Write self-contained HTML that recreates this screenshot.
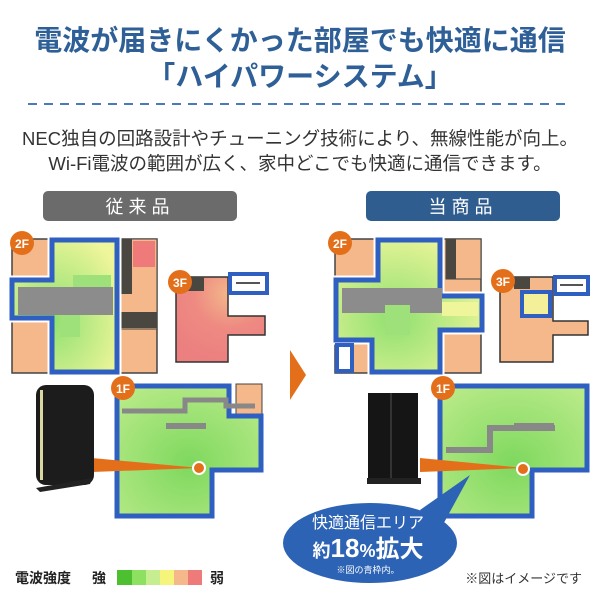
<!DOCTYPE html>
<html><head><meta charset="utf-8"><style>
body{margin:0;background:#fff;}
svg{display:block;font-family:"Liberation Sans","Noto Sans CJK JP",sans-serif;}
</style></head><body>
<svg width="600" height="600" viewBox="0 0 600 600" xmlns="http://www.w3.org/2000/svg">
<defs>
<radialGradient id="g1" cx="0.4" cy="0.6" r="0.7"><stop offset="0" stop-color="#8fe070"/><stop offset="1" stop-color="#eef59a"/></radialGradient>
<radialGradient id="g2" cx="0.5" cy="0.6" r="0.7"><stop offset="0" stop-color="#7ed85e"/><stop offset="1" stop-color="#b8ea88"/></radialGradient>
<radialGradient id="g3" cx="0.6" cy="0.2" r="0.8"><stop offset="0" stop-color="#f4b88a"/><stop offset="0.5" stop-color="#ee8a82"/><stop offset="1" stop-color="#ec8080"/></radialGradient>
</defs>
<text x="300" y="50" text-anchor="middle" font-size="28" font-weight="bold" fill="#2e5f96">電波が届きにくかった部屋でも快適に通信</text>
<text x="300" y="86" text-anchor="middle" font-size="28" font-weight="bold" fill="#2e5f96">「ハイパワーシステム」</text>
<line x1="28" y1="104" x2="572" y2="104" stroke="#4a7ab8" stroke-width="2" stroke-dasharray="9,7"/>
<text x="300" y="145" text-anchor="middle" font-size="18.5" fill="#333">NEC独自の回路設計やチューニング技術により、無線性能が向上。</text>
<text x="300" y="170" text-anchor="middle" font-size="18.5" fill="#333">Wi-Fi電波の範囲が広く、家中どこでも快適に通信できます。</text>

<rect x="43" y="191" width="194" height="30" rx="5" fill="#6b6b6b"/>
<text x="140" y="213" text-anchor="middle" font-size="18" fill="#fff" letter-spacing="5">従来品</text>
<rect x="366" y="191" width="194" height="30" rx="5" fill="#2f5d8f"/>
<text x="463" y="213" text-anchor="middle" font-size="18" fill="#fff" letter-spacing="5">当商品</text>

<!-- LEFT 2F -->
<g>
<rect x="12" y="239" width="145" height="134" fill="#f4b88a" stroke="#444" stroke-width="1.5"/>
<rect x="120" y="239" width="37" height="90" fill="#f4b88a" stroke="#444"/>
<rect x="120" y="239" width="12" height="55" fill="#4a4740"/>
<rect x="133" y="241" width="22" height="26" fill="#ee7a7a"/>
<rect x="120" y="312" width="37" height="16" fill="#4a4740"/>
<path d="M52 240 H117 V372 H52 V318 H12 V280 H52Z" fill="url(#g1)" stroke="#fff" stroke-width="9"/>
<path d="M52 240 H117 V372 H52 V318 H12 V280 H52Z" fill="url(#g1)" stroke="#2f5fc0" stroke-width="5"/>
<rect x="18" y="287" width="95" height="28" fill="#8c8c8c"/>
<rect x="73" y="275" width="38" height="12" fill="#9ee07a"/>
<rect x="60" y="315" width="20" height="22" fill="#9ee07a"/>
<circle cx="22" cy="243" r="12" fill="#e46f1a"/>
<text x="22" y="248" text-anchor="middle" font-size="12" font-weight="bold" fill="#fff">2F</text>
</g>
<!-- LEFT 3F -->
<g>
<path d="M176 277 H228 V316 H265 V335 H228 V362 H176Z" fill="url(#g3)" stroke="#333" stroke-width="1.5"/>
<rect x="186" y="277" width="18" height="14" fill="#4a4740"/>
<rect x="230" y="274" width="37" height="19" fill="#fff" stroke="#2f5fc0" stroke-width="4"/>
<line x1="236" y1="283" x2="260" y2="283" stroke="#555" stroke-width="2"/>
<circle cx="180" cy="282" r="12" fill="#e46f1a"/>
<text x="180" y="287" text-anchor="middle" font-size="12" font-weight="bold" fill="#fff">3F</text>
</g>
<!-- LEFT 1F -->
<g>
<rect x="236" y="384" width="26" height="30" fill="#f4b88a" stroke="#444"/>
<path d="M117 386 H229 V416 H261 V470 H212 V516 H117Z" fill="url(#g2)" stroke="#2f5fc0" stroke-width="5"/>
<path d="M122 411 H185 V400 H226 V406 H255" fill="none" stroke="#888" stroke-width="5"/>
<rect x="166" y="423" width="40" height="6" fill="#888"/>
<circle cx="123" cy="388" r="12" fill="#e46f1a"/>
<text x="123" y="393" text-anchor="middle" font-size="12" font-weight="bold" fill="#fff">1F</text>
<polygon points="92,458 200,468 92,472" fill="#e46f1a"/>
<circle cx="199" cy="468" r="6" fill="#e46f1a" stroke="#fff" stroke-width="2"/>
<rect x="36" y="385" width="58" height="100" rx="10" fill="#1c1c1c"/>
<rect x="40" y="390" width="3" height="90" fill="#d8d8a0"/>
<polygon points="36,488 92,478 90,484 40,492" fill="#222"/>
</g>
<!-- arrow -->
<polygon points="290,350 306,375 290,400" fill="#e46f1a"/>

<!-- RIGHT 2F -->
<g>
<rect x="335" y="239" width="146" height="134" fill="#f4b88a" stroke="#444" stroke-width="1.5"/>
<rect x="446" y="239" width="35" height="40" fill="#f4b88a" stroke="#444"/>
<rect x="446" y="239" width="10" height="40" fill="#4a4740"/>
<path d="M378 240 H440 V296 H482 V330 H440 V372 H372 V340 H336 V280 H378Z" fill="#fff" stroke="#fff" stroke-width="9"/>
<path d="M378 240 H440 V296 H482 V330 H440 V372 H372 V340 H336 V280 H378Z" fill="url(#g1)" stroke="#2f5fc0" stroke-width="5"/>
<rect x="342" y="288" width="100" height="25" fill="#8c8c8c"/>
<rect x="385" y="305" width="25" height="30" fill="#9ee07a"/>
<rect x="442" y="302" width="36" height="14" fill="#eef59a"/>
<rect x="337" y="345" width="15" height="26" fill="#fff" stroke="#2f5fc0" stroke-width="4"/>
<circle cx="340" cy="243" r="12" fill="#e46f1a"/>
<text x="340" y="248" text-anchor="middle" font-size="12" font-weight="bold" fill="#fff">2F</text>
</g>
<!-- RIGHT 3F -->
<g>
<path d="M500 277 H553 V321 H588 V335 H553 V362 H500Z" fill="#f4b88a" stroke="#333" stroke-width="1.5"/>
<rect x="514" y="277" width="16" height="12" fill="#4a4740"/>
<rect x="522" y="292" width="28" height="24" fill="#f4f09a" stroke="#2f5fc0" stroke-width="4"/>
<rect x="555" y="277" width="33" height="17" fill="#fff" stroke="#2f5fc0" stroke-width="4"/>
<line x1="560" y1="285" x2="583" y2="285" stroke="#555" stroke-width="2"/>
<circle cx="503" cy="281" r="12" fill="#e46f1a"/>
<text x="503" y="286" text-anchor="middle" font-size="12" font-weight="bold" fill="#fff">3F</text>
</g>
<!-- RIGHT 1F -->
<g>
<path d="M440 386 H587 V470 H532 V516 H440Z" fill="url(#g2)" stroke="#2f5fc0" stroke-width="5"/>
<path d="M446 450 H490 V428 H555" fill="none" stroke="#888" stroke-width="6"/>
<rect x="514" y="423" width="40" height="8" fill="#888"/>
<circle cx="443" cy="388" r="12" fill="#e46f1a"/>
<text x="443" y="393" text-anchor="middle" font-size="12" font-weight="bold" fill="#fff">1F</text>
<polygon points="420,458 524,468 420,472" fill="#e46f1a"/>
<circle cx="523" cy="469" r="6" fill="#e46f1a" stroke="#fff" stroke-width="2"/>
<rect x="368" y="393" width="50" height="88" fill="#151515"/>
<rect x="390" y="393" width="2" height="88" fill="#333"/>
<rect x="367" y="478" width="54" height="6" fill="#222"/>
</g>
<!-- bubble -->
<polygon points="420,510 470,475 440,530" fill="#2d63b5"/>
<ellipse cx="370" cy="543" rx="87" ry="40" fill="#2d63b5"/>
<text x="368" y="528" text-anchor="middle" font-size="16" fill="#fff">快適通信エリア</text>
<text x="368" y="557" text-anchor="middle" font-size="18" font-weight="bold" fill="#fff">約<tspan font-size="26">18</tspan><tspan font-size="18">%</tspan><tspan font-size="24">拡大</tspan></text>
<text x="368" y="573" text-anchor="middle" font-size="9" fill="#fff">※図の青枠内。</text>

<!-- legend -->
<text x="15" y="583" font-size="14" font-weight="bold" fill="#222">電波強度</text>
<text x="92" y="583" font-size="14" font-weight="bold" fill="#222">強</text>
<rect x="117" y="570" width="15" height="15" fill="#4cc030"/>
<rect x="132" y="570" width="14" height="15" fill="#8ee060"/>
<rect x="146" y="570" width="14" height="15" fill="#c6ee90"/>
<rect x="160" y="570" width="14" height="15" fill="#f4f57a"/>
<rect x="174" y="570" width="14" height="15" fill="#f4b88a"/>
<rect x="188" y="570" width="14" height="15" fill="#ee7a7a"/>
<text x="210" y="583" font-size="14" font-weight="bold" fill="#222">弱</text>
<text x="582" y="583" text-anchor="end" font-size="13" fill="#333">※図はイメージです</text>
</svg>
</body></html>
